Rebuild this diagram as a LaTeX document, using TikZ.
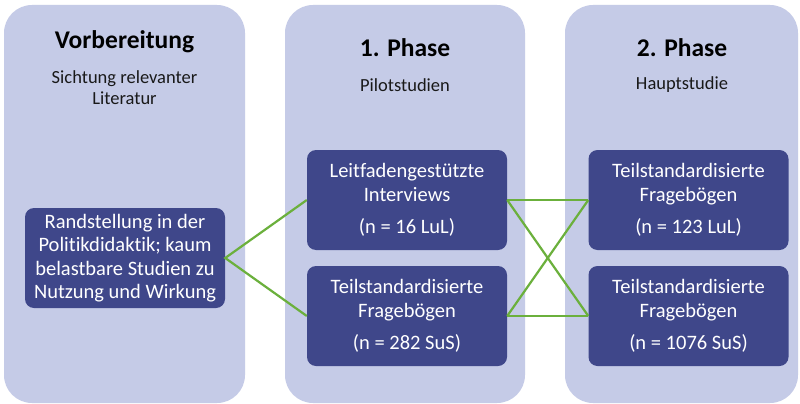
\documentclass[tikz,border=0pt]{standalone}
\usepackage{fontspec}
\setmainfont{Carlito}[RawFeature={-liga}]
\definecolor{colfill}{HTML}{C5CBE7}
\definecolor{boxfill}{HTML}{3F478A}
\definecolor{linkgreen}{HTML}{6BB03C}
\begin{document}
\begin{tikzpicture}[x=1pt,y=-1pt,
  column/.style={fill=colfill,draw=none,rounded corners=28pt},
  headtext/.style={font=\fontsize{25.5}{28}\selectfont\bfseries,text=black,inner sep=0pt},
  subtext/.style={font=\fontsize{18.5}{21}\selectfont,text=black!90,align=center,inner sep=0pt},
  studybox/.style={fill=boxfill,draw=none,rounded corners=9pt,text=white,align=center,
    minimum width=200pt,minimum height=100pt,inner sep=0pt,font=\fontsize{20.5}{24}\selectfont},
  link/.style={draw=linkgreen,line width=2.2pt}]
\useasboundingbox (0,0) rectangle (800,404);
\fill[white] (0,0) rectangle (800,404);
% columns
\path[column] (4,5) rectangle (245,403);
\path[column] (285,5) rectangle (525,403);
\path[column] (565,5) rectangle (798,403);
% headings
\node[headtext] (h1) at (124.5,42) {Vorbereitung};
\node[subtext] (s1) at (124.5,88) {Sichtung relevanter\\Literatur};
\node[headtext] (h2) at (405,48) {1. Phase};
\node[subtext] (s2) at (405,85) {Pilotstudien};
\node[headtext] (h3) at (682,48) {2. Phase};
\node[subtext] (s3) at (682,85) {Hauptstudie};
% boxes
\node[studybox,font=\fontsize{20.5}{23.3}\selectfont] (lb) at (125,258) {Randstellung in der\\Politikdidaktik; kaum\\belastbare Studien zu\\Nutzung und Wirkung};
\node[studybox] (p1a) at (407,200) {Leitfadengestützte\\Interviews\\[8pt](n = 16 LuL)};
\node[studybox] (p1b) at (407,316) {Teilstandardisierte\\Fragebögen\\[8pt](n = 282 SuS)};
\node[studybox] (p2a) at (688.5,200) {Teilstandardisierte\\Fragebögen\\[8pt](n = 123 LuL)};
\node[studybox] (p2b) at (688.5,316) {Teilstandardisierte\\Fragebögen\\[8pt](n = 1076 SuS)};
% connectors
\draw[link] (p1a.west) -- (lb.east) -- (p1b.west);
\draw[link] (p1a.east) -- (p2a.west);
\draw[link] (p1b.east) -- (p2b.west);
\draw[link] (p1a.east) -- (p2b.west);
\draw[link] (p1b.east) -- (p2a.west);
\end{tikzpicture}
\end{document}
